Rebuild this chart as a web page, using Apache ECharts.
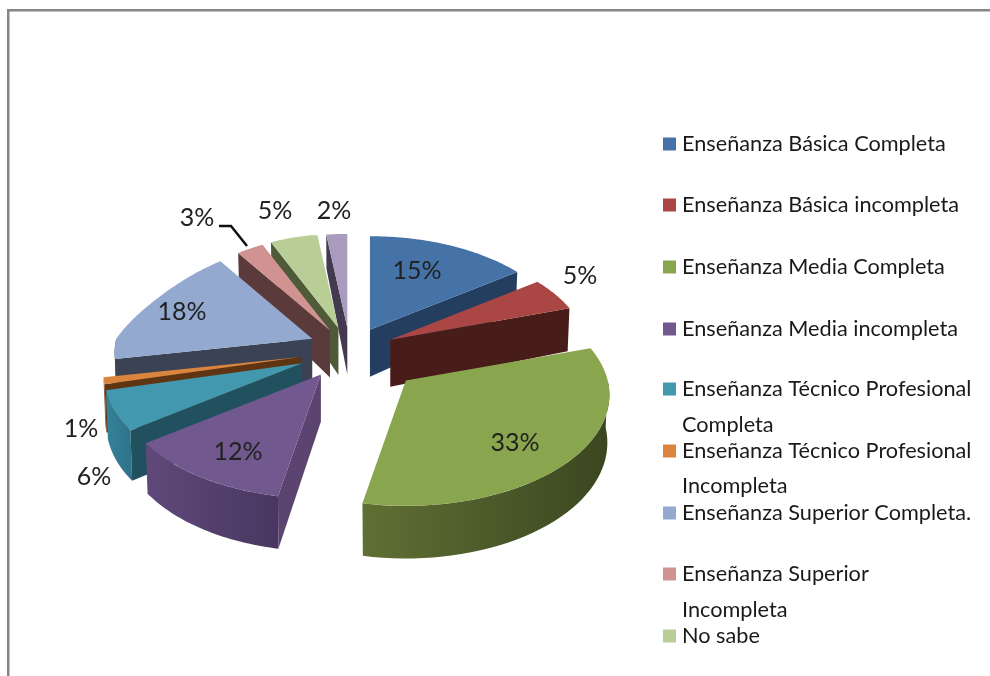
<!DOCTYPE html>
<html><head><meta charset="utf-8">
<style>html,body{margin:0;padding:0;background:#fff}#c{width:990px;height:676px}</style>
<script src="https://cdn.jsdelivr.net/npm/echarts@6/dist/echarts.min.js"></script>
</head><body><div id="c"></div>
<script>
// ---- data ----
var categories = ['Enseñanza Básica Completa','Enseñanza Básica incompleta','Enseñanza Media Completa','Enseñanza Media incompleta','Enseñanza Técnico Profesional','Enseñanza Técnico Profesional ','Enseñanza Superior Completa.','Enseñanza Superior','No sabe','Otros'];
var values = [15,5,33,12,6,1,18,3,5,2];
// ---- styles ----
var topColors  = ['#4572a7','#aa4643','#89a54e','#71588f','#4198af','#db843d','#93a9cf','#d19392','#b9cd96','#a99bbd'];
var cutColors  = ['#243e60','#481c18','#4e5c2a','#5c4470','#21515f','#5f3410','#3a4254','#5a3a3a','#4e5a38','#433a50'];
var rimFrom    = ['#2c4a70','#5a2422','#5f7034','#60497a','#35829a','#a0602a','#3a4254','#6d4544','#66754a','#5a5070'];
var rimTo      = ['#243e60','#481c18','#3b4620','#483660','#2e7288','#804a20','#3a4254','#5a3a3a','#4e5a38','#433a50'];
var explode    = [49,49,68,50,50,49,49,49,50,49];
var radiusScale= [1,1,1.03,1.02,1,1,1,1,1,1];
var nudge      = [[0,0],[-1,0],[0,3],[1,-2],[0,0],[0,0],[2,-3],[0,0],[0,0],[0,0]];
var labelAt    = [[417,271],[580,276],[515,443],[238,452],[94,477],[81,429],[182,312],[197,218],[275,211],[334,211]];
var paintOrder = [9,8,7,6,5,4,3,0,1,2];
var legendTops = [146,207,269,331,391,453,515,576,638];
var continuation = [['Completa',427],['Incompleta',488],['Incompleta',612]];

var CX=350, CY=351, R=196, K=0.13, T=0.54, DEPTH=47;
var FONT='Lato, "Open Sans", sans-serif';
var total = values.reduce(function(a,b){return a+b;},0);

function proj(deg){
  var a=deg*Math.PI/180, u=Math.sin(a), v=Math.cos(a), s=1/(1+K*v);
  var squeeze=(u<0&&v>0)?1-0.25*v*(-u):1;
  return {x:u*s*squeeze, y:-T*v*s, v:v};
}
function depthAt(v){ return DEPTH*(v<0 ? 1-0.12*v : 1-0.28*v); }

var cum=[0]; values.forEach(function(x,i){cum.push(cum[i]+x);});

function sliceElements(i){
  var a0=cum[i]/total*360, a1=cum[i+1]/total*360, m=(a0+a1)/2;
  var d=proj(m), e=explode[i], r=R*radiusScale[i];
  var ax=CX+d.x*e+nudge[i][0], ay=CY+d.y*e+nudge[i][1];
  function top(a){var p=proj(a);return [ax+r*p.x, ay+r*p.y];}
  function bot(a){var p=proj(a);return [ax+r*p.x*0.99, ay+r*p.y+depthAt(p.v)];}
  var apexBot=[ax,ay+DEPTH], kids=[], arc=[], a;
  var step=(a1-a0)/Math.max(4,Math.ceil(a1-a0));
  for(a=a0;a<=a1+1e-6;a+=step) arc.push(a);
  // outer wall on the part of the rim that faces the viewer
  var f0=Math.max(a0,90), f1=Math.min(a1,270);
  if(f1>f0){
    var fa=[]; for(a=f0;a<=f1+1e-6;a+=(f1-f0)/40) fa.push(a);
    var pts=fa.map(top).concat(fa.slice().reverse().map(bot));
    kids.push({type:'polygon',shape:{points:pts},style:{fill:new echarts.graphic.LinearGradient(0,0,1,0,[{offset:0,color:rimFrom[i]},{offset:1,color:rimTo[i]}])}});
  }
  // visible cut faces
  if(Math.sin(a0*Math.PI/180)<-1e-6){
    kids.push({type:'polygon',shape:{points:[[ax,ay],top(a0),bot(a0),apexBot]},style:{fill:cutColors[i]}});
  }
  if(Math.sin(a1*Math.PI/180)>1e-6){
    kids.push({type:'polygon',shape:{points:[[ax,ay],top(a1),bot(a1),apexBot]},style:{fill:cutColors[i]}});
  }
  // top face
  kids.push({type:'polygon',shape:{points:[[ax,ay]].concat(arc.map(top))},style:{fill:topColors[i]}});
  return kids;
}

var series=categories.map(function(name,i){
  return {
    type:'custom', name:name, coordinateSystem:'none', silent:true,
    z:2+paintOrder.indexOf(i),
    itemStyle:{color:topColors[i]},
    data:[[values[i]]],
    renderItem:function(){ return {type:'group',children:sliceElements(i)}; }
  };
});
// percentage labels + leader line, on top of every slice
series.push({
  type:'custom', coordinateSystem:'none', silent:true, z:30, data:[[0]],
  renderItem:function(){
    var kids=values.map(function(v,i){
      return {type:'text',style:{text:Math.round(v/total*100)+'%',x:labelAt[i][0],y:labelAt[i][1],align:'center',verticalAlign:'middle',font:'25px '+FONT,fill:'#222'}};
    });
    kids.push({type:'polyline',shape:{points:[[219,226],[231,226],[247,246]]},style:{stroke:'#111',lineWidth:2.5,fill:null}});
    return {type:'group',children:kids};
  }
});

var legends=legendTops.map(function(t,i){
  return {
    data:[categories[i]], left:663, top:t-13, orient:'vertical', icon:'rect',
    itemWidth:13, itemHeight:13, itemGap:0, selectedMode:false, padding:0,
    formatter:function(n){return n.trim();},
    textStyle:{fontFamily:'Lato',fontSize:21.7,color:'#1a1a1a',padding:[0,0,0,1]}
  };
});

var graphics=[
  {type:'rect',shape:{x:7,y:9,width:983,height:2.5},style:{fill:'#868686'}},
  {type:'rect',shape:{x:7,y:9,width:2.5,height:667},style:{fill:'#868686'}}
].concat(continuation.map(function(c){
  return {type:'text',left:682,top:c[1]-13,style:{text:c[0],font:'21.7px '+FONT,fill:'#1a1a1a'}};
}));

var chart=echarts.init(document.getElementById('c'),null,{renderer:'canvas'});
chart.setOption({animation:false,backgroundColor:'#fff',tooltip:{show:false},legend:legends,series:series,graphic:graphics});
</script></body></html>
